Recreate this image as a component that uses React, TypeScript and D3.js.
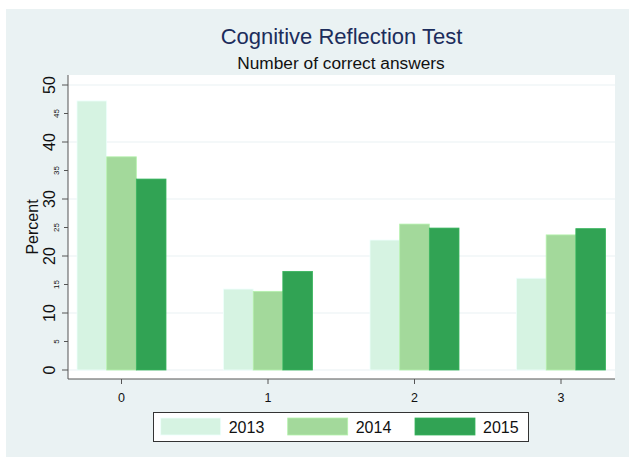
import React from "react";
import * as d3 from "d3";

const categories = ["0", "1", "2", "3"];
const years = ["2013", "2014", "2015"];
const values2013 = [47.2, 14.2, 22.8, 16.1];
const values2014 = [37.4, 13.8, 25.6, 23.7];
const values2015 = [33.5, 17.3, 24.9, 24.8];
const seriesColors = ["#d6f3e2", "#a3d99b", "#31a354"];
const majorTicks = [0, 10, 20, 30, 40, 50];
const minorTicks = [5, 15, 25, 35, 45];

const W = 629;
const H = 457;
const FONT = "'Liberation Sans', Arial, Helvetica, sans-serif";

export default function App() {
  const series = [values2013, values2014, values2015];
  const y = d3.scaleLinear().domain([0, 50]).range([370, 85]);
  const x = d3.scalePoint<string>().domain(categories).range([121.5, 561]);
  const inner = d3.scaleBand<string>().domain(years).range([-44.5, 44.5]).padding(0);

  const plotL = 68, plotR = 615, plotT = 75, plotB = 379;

  return (
    <svg width={W} height={H} style={{ position: "absolute", left: 0, top: 0 }} fontFamily={FONT}>
      <rect x={0} y={0} width={W} height={H} fill="#ffffff" />
      <rect x={6} y={9} width={W - 6} height={H - 9} fill="#eaf2f3" />
      <rect x={plotL} y={plotT} width={plotR - plotL} height={plotB - plotT} fill="#ffffff" />
      {majorTicks.map((t) => (
        <line key={"g" + t} x1={plotL} x2={plotR} y1={y(t)} y2={y(t)} stroke="#eaf2f3" strokeWidth={1.2} />
      ))}
      {categories.map((c, ci) =>
        years.map((yr, si) => {
          const v = series[si][ci];
          const bx = (x(c) as number) + (inner(yr) as number);
          return (
            <rect
              key={c + yr}
              x={bx}
              y={y(v)}
              width={inner.bandwidth()}
              height={y(0) - y(v)}
              fill={seriesColors[si]}
              stroke={d3.color(seriesColors[si])!.brighter(0.3).formatHex()}
              strokeWidth={0.8}
            />
          );
        })
      )}
      {/* axes */}
      <line x1={plotL} x2={plotL} y1={plotT} y2={plotB} stroke="#555" strokeWidth={1} />
      <line x1={plotL} x2={plotR} y1={plotB} y2={plotB} stroke="#555" strokeWidth={1} />
      {majorTicks.map((t) => (
        <g key={"mt" + t}>
          <line x1={plotL - 6} x2={plotL} y1={y(t)} y2={y(t)} stroke="#555" />
          <text
            transform={`translate(${54.5},${y(t)}) rotate(-90)`}
            textAnchor="middle"
            fontSize={16}
            fill="#111"
          >
            {t}
          </text>
        </g>
      ))}
      {minorTicks.map((t) => (
        <g key={"nt" + t}>
          <line x1={plotL - 4} x2={plotL} y1={y(t)} y2={y(t)} stroke="#555" />
          <text
            transform={`translate(${59},${y(t)}) rotate(-90)`}
            textAnchor="middle"
            fontSize={8}
            fill="#111"
          >
            {t}
          </text>
        </g>
      ))}
      <text transform={`translate(${38},${227}) rotate(-90)`} textAnchor="middle" fontSize={16} fill="#111">
        Percent
      </text>
      {categories.map((c) => (
        <g key={"xt" + c}>
          <line x1={x(c)} x2={x(c)} y1={plotB} y2={plotB + 5} stroke="#555" />
          <text x={x(c)} y={plotB + 23} textAnchor="middle" fontSize={12.5} fill="#111">
            {c}
          </text>
        </g>
      ))}
      {/* titles */}
      <text x={341.5} y={43.5} textAnchor="middle" fontSize={22} fill="#1c2d5c">
        Cognitive Reflection Test
      </text>
      <text x={341} y={68.5} textAnchor="middle" fontSize={17.3} fill="#111">
        Number of correct answers
      </text>
      {/* legend */}
      <rect x={153.5} y={412.5} width={375} height={29} fill="#fff" stroke="#333" strokeWidth={1} />
      {years.map((yr, i) => {
        const sx = [160.7, 287.7, 415][i];
        return (
          <g key={"lg" + yr}>
            <rect x={sx} y={418} width={60} height={17} fill={seriesColors[i]} stroke={d3.color(seriesColors[i])!.brighter(0.3).formatHex()} strokeWidth={0.8} />
            <text x={sx + 68} y={432.5} fontSize={16} fill="#111">
              {yr}
            </text>
          </g>
        );
      })}
    </svg>
  );
}
